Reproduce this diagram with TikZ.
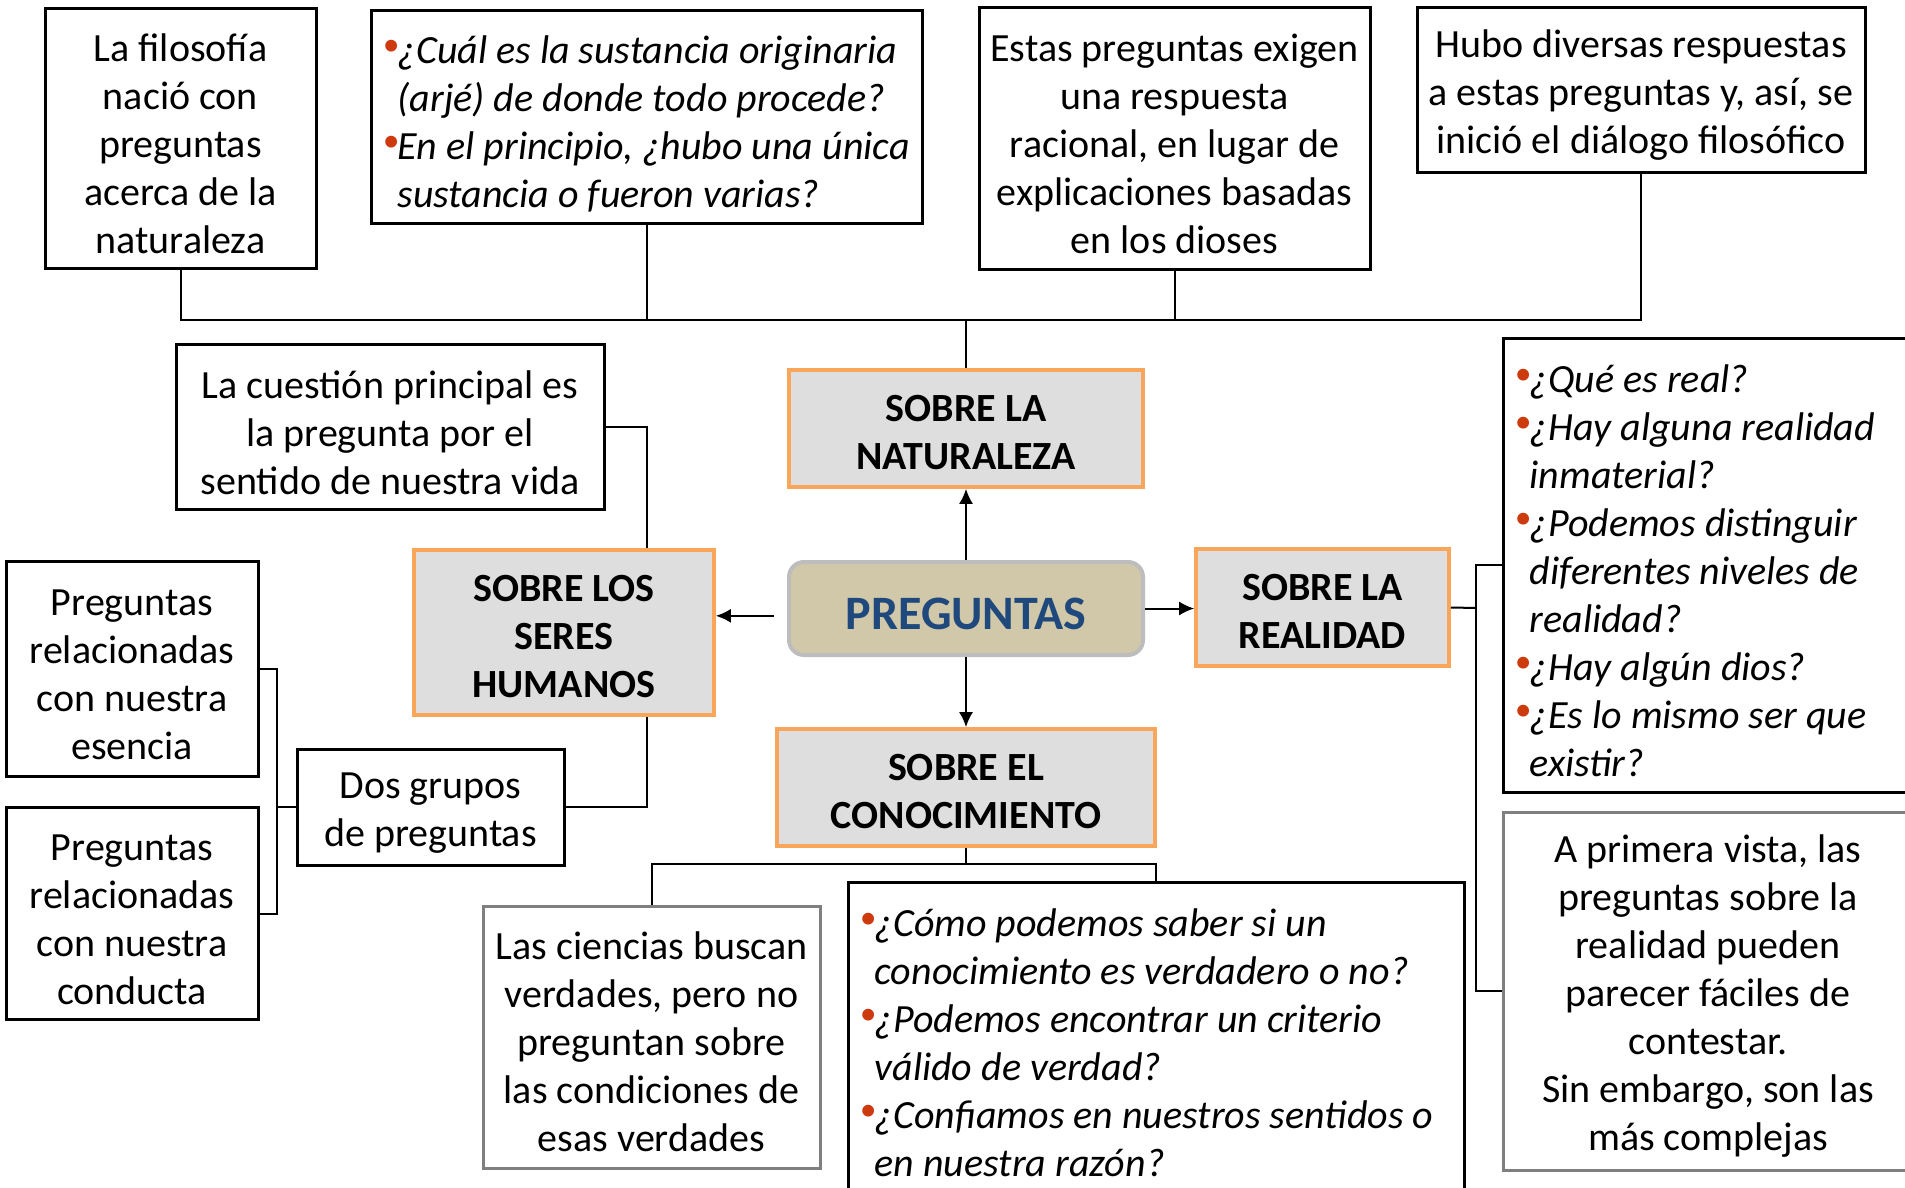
\documentclass[tikz,border=0pt]{standalone}
\usepackage{fontspec}
\setmainfont{Carlito}
\usetikzlibrary{arrows.meta}

\definecolor{topicgray}{HTML}{DEDEDE}
\definecolor{topicorange}{HTML}{F9A65A}
\definecolor{rootfill}{HTML}{D0C8A8}
\definecolor{rootdraw}{HTML}{BDBDBD}
\definecolor{rootblue}{HTML}{1F497D}
\definecolor{dotred}{HTML}{CC3A0E}
\definecolor{boxgray}{HTML}{7F7F7F}

\newlength\bulw \setlength\bulw{4.5pt}
\newcommand\qb[1]{\mbox{\makebox[\bulw][l]{\raisebox{2.4pt}{\textcolor{dotred}{\fontsize{10}{10}\selectfont\textbullet}}}#1}}
\newcommand\ql[1]{\mbox{\hspace*{\bulw}#1}}

\tikzset{
  textbox/.style={draw, line width=0.9pt, align=flush center, inner sep=2pt,
    font=\fontsize{12}{14.4}\selectfont, execute at begin node={\rule{0pt}{11.2pt}}},
  graybox/.style={textbox, draw=boxgray},
  qbox/.style={draw, line width=0.9pt, align=flush left, inner xsep=3.5pt, inner ysep=3pt,
    font=\fontsize{12}{14.4}\selectfont\itshape, execute at begin node={\rule{0pt}{12pt}}},
  topicbox/.style={draw=topicorange, fill=topicgray, line width=1.1pt, align=flush center,
    inner sep=2pt, font=\bfseries\fontsize{12}{14.4}\selectfont,
    execute at begin node={\rule{0pt}{10pt}}},
  rootbox/.style={draw=rootdraw, fill=rootfill, rounded corners=4.5pt, line width=1.2pt,
    text=rootblue, font=\bfseries\fontsize{14.4}{17}\selectfont,
    execute at begin node={\rule{0pt}{12.5pt}}},
  link/.style={line width=0.6pt},
  arr/.style={line width=0.6pt, -{Latex[length=4.5pt,width=4.2pt]}}
}

\begin{document}
\begin{tikzpicture}[x=0.3pt, y=-0.3pt]
    \useasboundingbox (0,0) rectangle (1905,1188);
    \clip (0,0) rectangle (1905,1188);
    \fill[white] (0,0) rectangle (1905,1188);

    \node[textbox, text width=77.3pt, minimum height=78pt] (origen) at (180.5,139)
      {La filosofía\\nació con\\preguntas\\acerca de la\\naturaleza};
    \node[qbox, text width=158.3pt, minimum height=63.9pt] (arje) at (646.5,117.5)
      {\qb{¿Cuál es la sustancia originaria}\\\ql{(arjé) de donde todo procede?}\\
       \qb{En el principio, ¿hubo una única}\\\ql{sustancia o fueron varias?}};
    \node[textbox, text width=113.3pt, minimum height=78.6pt] (racional) at (1174.5,139)
      {Estas preguntas exigen\\una respuesta\\racional, en lugar de\\explicaciones basadas\\en los dioses};
    \node[textbox, text width=130.4pt, minimum height=49.5pt] (dialogo) at (1641,90.5)
      {Hubo diversas respuestas\\a estas preguntas y, así, se\\inició el diálogo filosófico};

    \node[topicbox, text width=102.2pt, minimum height=35.1pt] (naturaleza) at (966,428.5)
      {SOBRE LA\\NATURALEZA};
    \node[rootbox, minimum width=106.2pt, minimum height=27.9pt] (preguntas) at (966,608.5)
      {PREGUNTAS};
    \node[topicbox, text width=86pt, minimum height=49.5pt] (seres) at (564,632.5)
      {SOBRE LOS\\SERES\\HUMANOS};
    \node[topicbox, text width=71.9pt, minimum height=35.1pt] (realidad) at (1322.5,607.5)
      {SOBRE LA\\REALIDAD};
    \node[topicbox, text width=109.4pt, minimum height=35.1pt] (conocimiento) at (966,787.5)
      {SOBRE EL\\CONOCIMIENTO};

    \node[textbox, text width=124.4pt, minimum height=49.5pt] (sentido) at (390,427.5)
      {La cuestión principal es\\la pregunta por el\\sentido de nuestra vida};
    \node[textbox, text width=71.6pt, minimum height=64.5pt] (esencia) at (132,668.5)
      {Preguntas\\relacionadas\\con nuestra\\esencia};
    \node[textbox, text width=71.6pt, minimum height=63.6pt] (conducta) at (132,913.5)
      {Preguntas\\relacionadas\\con nuestra\\conducta};
    \node[textbox, text width=76.1pt, minimum height=34.8pt] (grupos) at (430.5,807)
      {Dos grupos\\de preguntas};

    \node[graybox, text width=97.1pt, minimum height=78.6pt] (ciencias) at (651.5,1037)
      {Las ciencias buscan\\verdades, pero no\\preguntan sobre\\las condiciones de\\esas verdades};
    \node[qbox, text width=177.8pt, minimum height=93pt, execute at begin node={}] (criterio) at (1156,1037)
      {\qb{¿Cómo podemos saber si un}\\\ql{conocimiento es verdadero o no?}\\
       \qb{¿Podemos encontrar un criterio}\\\ql{válido de verdad?}\\
       \qb{¿Confiamos en nuestros sentidos o}\\\ql{en nuestra razón?}};

    \node[qbox, text width=119.6pt, minimum height=136.2pt] (real) at (1714,565)
      {\qb{¿Qué es real?}\\\qb{¿Hay alguna realidad}\\\ql{inmaterial?}\\
       \qb{¿Podemos distinguir}\\\ql{diferentes niveles de}\\\ql{realidad?}\\
       \qb{¿Hay algún dios?}\\\qb{¿Es lo mismo ser que}\\\ql{existir?}};
    \node[graybox, text width=119pt, minimum height=107.4pt] (vista) at (1708,991)
      {A primera vista, las\\preguntas sobre la\\realidad pueden\\parecer fáciles de\\contestar.\\Sin embargo, son las\\más complejas};

    \coordinate (bus) at (966,320); \coordinate (fork) at (277,807);
    \coordinate (cbus) at (966,864); \coordinate (rfork) at (1476,608);

    \draw[link] (origen.south) |- (bus) -| (dialogo.south);
    \draw[link] (arje.south) -- (arje.south |- bus);
    \draw[link] (racional.south) -- (racional.south |- bus);
    \draw[link] (bus) -- (naturaleza.north);

    \draw[arr] (preguntas.north) -- (naturaleza.south);
    \draw[arr] ([xshift=-4pt,yshift=-2.2pt]preguntas.west) -- ([yshift=-2.2pt]seres.east |- preguntas.west);
    \draw[arr] (preguntas.east) -- (realidad.west |- preguntas.east);
    \draw[arr] (preguntas.south) -- (conocimiento.north);

    \draw[link] (sentido.east) -| ([xshift=24.9pt]seres.north);
    \draw[link] ([xshift=24.9pt]seres.south) |- (grupos.east);
    \draw[link] (grupos.west) -- (fork);
    \draw[link] (esencia.east) -| (fork) |- (conducta.east);

    \draw[link] (conocimiento.south) -- (cbus);
    \draw[link] (ciencias.north) |- (cbus) -| (criterio.north);

    \draw[link] (realidad.east) -- (rfork);
    \draw[link] (real.west) -| (rfork) |- (vista.west);
\end{tikzpicture}
\end{document}
